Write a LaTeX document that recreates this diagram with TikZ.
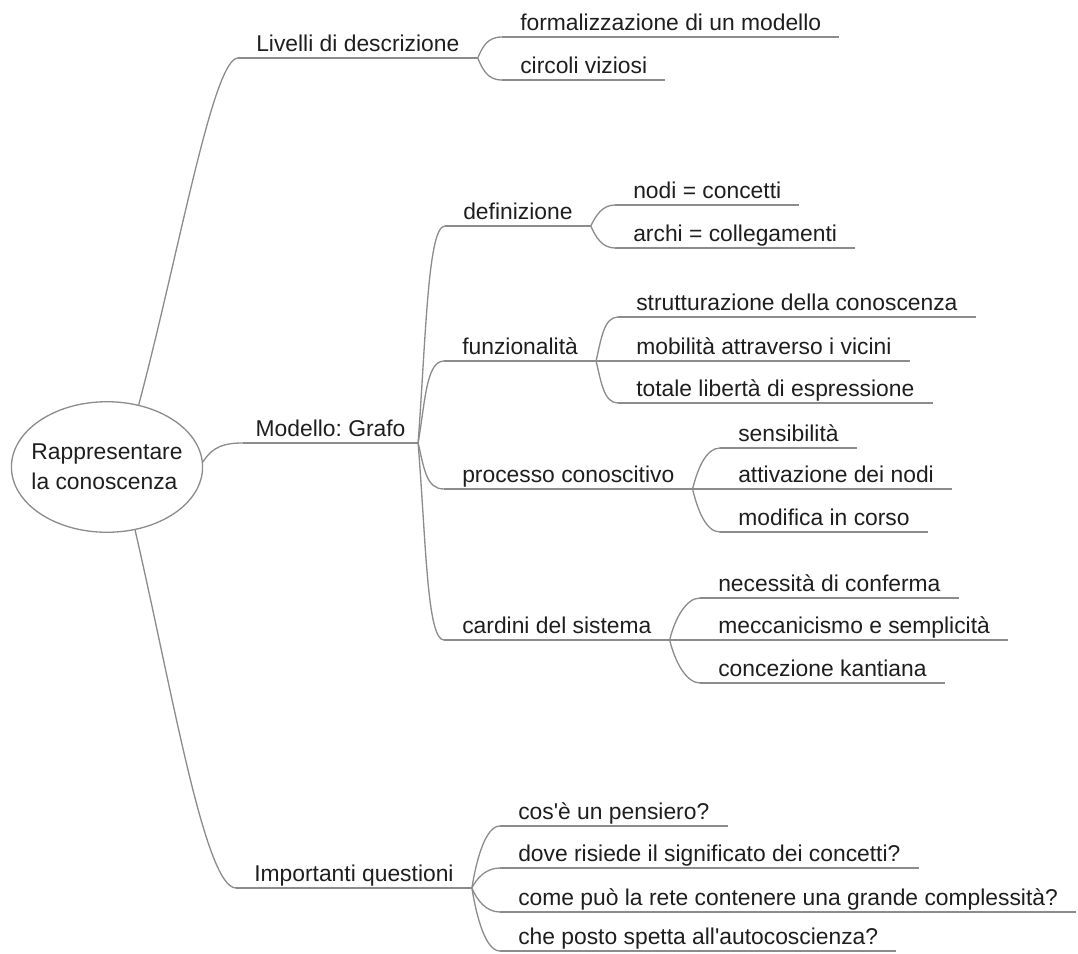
\documentclass[tikz,border=0pt]{standalone}
\usepackage{fontspec}
\setmainfont{Liberation Sans}
\usetikzlibrary{shapes.geometric, positioning}
\definecolor{grigio}{HTML}{8C8C8C}
\definecolor{testo}{HTML}{1E1E1E}
\frenchspacing

\begin{document}
\begin{tikzpicture}[x=0.02cm, y=-0.02cm,
    ramo/.style={draw=grigio, line width=0.75pt},
    voce/.style={anchor=south west, inner xsep=10.2pt, inner ysep=3.4pt, text depth=0pt, text=testo, font=\fontsize{13}{15}\selectfont},
    radice/.style={ellipse, draw=grigio, line width=0.75pt, inner sep=-4.6pt, minimum width=108.8pt, minimum height=74.3pt, align=left, text=testo, font=\fontsize{13}{17}\selectfont}]
        \useasboundingbox (0,0) rectangle (1078,953);
        %radice
        \node[radice] (rad) at (107,467) {Rappresentare\\la conoscenza};
        %livelli di descrizione
        \node[voce] (liv) at (238,58) {Livelli di descrizione};
        \node[voce] (form) at (502,37) {formalizzazione di un modello};
        \node[voce] (circ) at (502,80) {circoli viziosi};
        %modello: grafo
        \node[voce, inner xsep=7pt] (mod) at (243,443) {Modello: Grafo};
        \node[voce] (def) at (445,226) {definizione};
        \node[voce] (nodi) at (615,205) {nodi = concetti};
        \node[voce] (archi) at (615,248) {archi = collegamenti};
        \node[voce] (funz) at (444,361) {funzionalità};
        \node[voce] (strut) at (618,317) {strutturazione della conoscenza};
        \node[voce] (mob) at (618,361) {mobilità attraverso i vicini};
        \node[voce] (lib) at (618,403) {totale libertà di espressione};
        \node[voce] (proc) at (444,489) {processo conoscitivo};
        \node[voce] (sens) at (720,448) {sensibilità};
        \node[voce] (attiv) at (720,489) {attivazione dei nodi};
        \node[voce] (modif) at (720,532) {modifica in corso};
        \node[voce] (card) at (444,640) {cardini del sistema};
        \node[voce] (conf) at (700,598) {necessità di conferma};
        \node[voce] (mecc) at (700,640) {meccanicismo e semplicità};
        \node[voce] (kant) at (700,683) {concezione kantiana};
        %importanti questioni
        \node[voce] (imp) at (236,888) {Importanti questioni};
        \node[voce] (pens) at (500,826) {cos\textquotesingle è un pensiero?};
        \node[voce] (sign) at (500,868) {dove risiede il significato dei concetti?};
        \node[voce] (compl) at (500,912) {come può la rete contenere una grande complessità?};
        \node[voce] (auto) at (500,951) {che posto spetta all\textquotesingle autocoscienza?};
        %sottolineature
        \foreach \v in {liv,form,circ,mod,def,nodi,archi,funz,strut,mob,lib,proc,sens,attiv,modif,card,conf,mecc,kant,imp,pens,sign,compl,auto}
            \draw[ramo] (\v.south west) -- (\v.south east);
        %rami dalla radice
        \draw[ramo] (rad.63) .. controls +(40,-150) and +(-25,0) .. (liv.south west);
        \draw[ramo] (rad.3) .. controls +(10,-16) and +(-18,0) .. (mod.south west);
        \draw[ramo] (rad.-66) .. controls +(37,160) and +(-31,0) .. (imp.south west);
        %livelli
        \draw[ramo] (liv.south east) .. controls +(5,-11) and +(-15,0) .. (form.south west);
        \draw[ramo] (liv.south east) .. controls +(5,11) and +(-15,0) .. (circ.south west);
        %modello
        \draw[ramo] (mod.south east) .. controls +(8,-110) and +(-17,0) .. (def.south west);
        \draw[ramo] (mod.south east) .. controls +(7,-40) and +(-18,0) .. (funz.south west);
        \draw[ramo] (mod.south east) .. controls +(6,25) and +(-18,0) .. (proc.south west);
        \draw[ramo] (mod.south east) .. controls +(8,100) and +(-17,0) .. (card.south west);
        \draw[ramo] (def.south east) .. controls +(5,-10) and +(-13,0) .. (nodi.south west);
        \draw[ramo] (def.south east) .. controls +(5,11) and +(-13,0) .. (archi.south west);
        \draw[ramo] (funz.south east) .. controls +(5,-22) and +(-14,0) .. (strut.south west);
        \draw[ramo] (funz.south east) -- (mob.south west);
        \draw[ramo] (funz.south east) .. controls +(5,21) and +(-14,0) .. (lib.south west);
        \draw[ramo] (proc.south east) .. controls +(5,-20) and +(-14,0) .. (sens.south west);
        \draw[ramo] (proc.south east) -- (attiv.south west);
        \draw[ramo] (proc.south east) .. controls +(5,21) and +(-14,0) .. (modif.south west);
        \draw[ramo] (card.south east) .. controls +(5,-21) and +(-14,0) .. (conf.south west);
        \draw[ramo] (card.south east) -- (mecc.south west);
        \draw[ramo] (card.south east) .. controls +(5,21) and +(-14,0) .. (kant.south west);
        %questioni
        \draw[ramo] (imp.south east) .. controls +(5,-31) and +(-14,0) .. (pens.south west);
        \draw[ramo] (imp.south east) .. controls +(5,-10) and +(-14,0) .. (sign.south west);
        \draw[ramo] (imp.south east) .. controls +(5,12) and +(-14,0) .. (compl.south west);
        \draw[ramo] (imp.south east) .. controls +(5,31) and +(-14,0) .. (auto.south west);
    \end{tikzpicture}
\end{document}
